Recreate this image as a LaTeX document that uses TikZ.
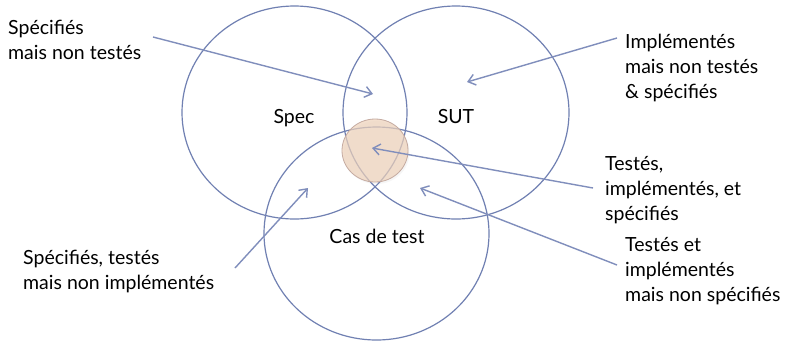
\documentclass[tikz,border=0pt]{standalone}
\usepackage{fontspec}
\setmainfont{Lato}
\usetikzlibrary{arrows.meta,shadows}
\definecolor{ringc}{RGB}{112,128,178}
\definecolor{arrc}{RGB}{128,142,188}
\definecolor{peach}{RGB}{238,210,186}
\definecolor{peachline}{RGB}{196,170,160}
\begin{document}
\begin{tikzpicture}[x=1pt,y=-1pt,
  ring/.style={draw=ringc,line width=1.2pt},
  lbl/.style={inner sep=0pt,font=\fontsize{19.5}{25}\selectfont,text=black},
  note/.style={lbl,align=left,anchor=west},
  conn/.style={draw=arrc,line width=1.4pt,-{Straight Barb[length=7pt,width=11pt,line width=1.4pt]}}]
\useasboundingbox (0,0) rectangle (789,341);
\fill[white] (0,0) rectangle (789,341);
% circles
\draw[ring] (294.5,112.5) ellipse [x radius=112.5pt, y radius=106.5pt];
\draw[ring] (456,112.5) ellipse [x radius=113pt, y radius=106.5pt];
\draw[ring] (376.5,233.5) ellipse [x radius=112.5pt, y radius=106.5pt];
% shaded intersection
\fill[gray,opacity=0.07] (376.5,152.5) ellipse [x radius=33pt, y radius=31.5pt];
\draw[draw=peachline,fill=peach,fill opacity=0.7,line width=0.8pt] (375,150.5) ellipse [x radius=33pt, y radius=31.5pt];
% circle labels
\node[lbl] (spec) at (294,118) {Spec};
\node[lbl] (sut) at (456,117) {SUT};
\node[lbl] (cas) at (377,236) {Cas de test};
% notes
\node[note] (n1) at (8,40) {Spécifiés\\mais non testés};
\node[note] (n2) at (625,68) {Implémentés\\mais non testés\\\& spécifiés};
\node[note] (n3) at (605,190) {Testés,\\implémentés, et\\spécifiés};
\node[note] (n4) at (625,271) {Testés et\\implémentés\\mais non spécifiés};
\node[note] (n5) at (23,271) {Spécifiés, testés\\mais non implémentés};
% connector ends
\coordinate (s1) at (153,37);  \coordinate (e1) at (373,94);
\coordinate (s2) at (617,38);  \coordinate (e2) at (467,82);
\coordinate (s3) at (593,188); \coordinate (e3) at (372,148);
\coordinate (s4) at (617,265); \coordinate (e4) at (420,188);
\coordinate (s5) at (235,268); \coordinate (e5) at (308,188);
\draw[conn] (s1) -- (e1);
\draw[conn] (s2) -- (e2);
\draw[conn] (s3) -- (e3);
\draw[conn] (s4) -- (e4);
\draw[conn] (s5) -- (e5);
\end{tikzpicture}
\end{document}
